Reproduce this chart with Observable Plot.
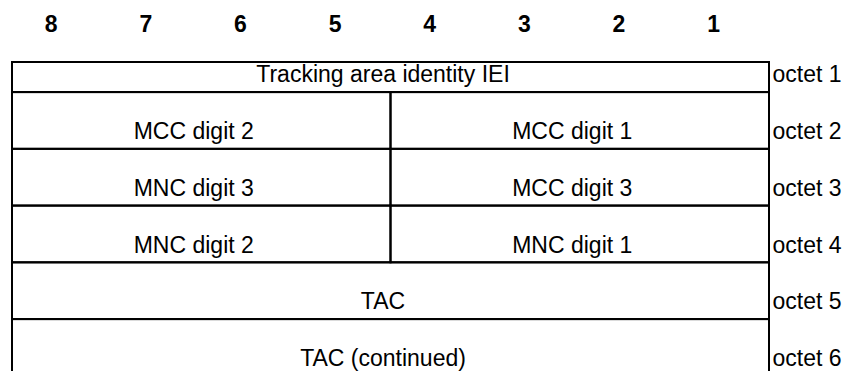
<!DOCTYPE html>
<html>
<head>
<meta charset="utf-8">
<script src="https://cdn.jsdelivr.net/npm/d3@7"></script>
<script src="https://cdn.jsdelivr.net/npm/@observablehq/plot@0.6"></script>
<style>
  html, body { margin: 0; padding: 0; background: white; overflow: hidden; }
</style>
</head>
<body>
<div id="chart"></div>
<script>
// ---- data ----
const bitLabels = ["8", "7", "6", "5", "4", "3", "2", "1"];
const octetLabels = ["octet 1", "octet 2", "octet 3", "octet 4", "octet 5", "octet 6"];
const fieldNames = [
  "Tracking area identity IEI",
  "MCC digit 2", "MCC digit 1",
  "MNC digit 3", "MCC digit 3",
  "MNC digit 2", "MNC digit 1",
  "TAC",
  "TAC (continued)"
];
const fieldOctet = [1, 2, 2, 3, 3, 4, 4, 5, 6];
const fieldHighBit = [8, 8, 4, 8, 4, 8, 4, 8, 8];
const fieldLowBit = [1, 5, 1, 5, 1, 5, 1, 1, 1];

// ---- layout ----
const W = 847, H = 371;
const rowPx = 56.75;         // pixel height of one octet row
const tableTop = 62;         // pixel top of the table
const headerRatio = 0.53;    // first octet row is shorter
const octetTop = k => (k === 1 ? 0 : headerRatio + (k - 2));
const octetBottom = k => (k === 1 ? headerRatio : headerRatio + (k - 1));
const textLift = 17.6 / rowPx;

const fields = fieldNames.map((name, i) => ({
  name,
  x1: 8 - fieldHighBit[i],
  x2: 9 - fieldLowBit[i],
  y1: octetTop(fieldOctet[i]),
  y2: octetBottom(fieldOctet[i])
}));
const bits = bitLabels.map((b, i) => ({ label: b, x: i + 0.5 }));
const octets = octetLabels.map((o, i) => ({ label: o, y: octetBottom(i + 1) - textLift }));

const font = "'Liberation Sans', Arial, Helvetica, sans-serif";

const chart = Plot.plot({
  width: W,
  height: H,
  marginLeft: 12,
  marginRight: 78,
  marginTop: 0,
  marginBottom: 0,
  style: { fontFamily: font, background: "white", color: "black" },
  x: { domain: [0, 8], axis: null },
  y: { domain: [-tableTop / rowPx, (H - tableTop) / rowPx], range: [0, H], axis: null },
  marks: [
    Plot.rect(fields, {
      x1: "x1", x2: "x2", y1: "y1", y2: "y2",
      fill: "none", stroke: "black", strokeWidth: 2
    }),
    Plot.text(fields, {
      x: d => (d.x1 + d.x2) / 2,
      y: d => d.y2 - textLift,
      text: "name",
      dx: -8,
      fontSize: 23,
      fill: "black",
      lineAnchor: "middle",
      textAnchor: "middle"
    }),
    Plot.text(bits, {
      x: "x",
      y: () => -0.664,
      text: "label",
      dx: -8.6,
      fontSize: 23,
      fontWeight: "bold",
      fill: "black",
      lineAnchor: "middle",
      textAnchor: "middle"
    }),
    Plot.text(octets, {
      x: () => 8,
      y: "y",
      text: "label",
      dx: 3,
      fontSize: 23,
      fill: "black",
      lineAnchor: "middle",
      textAnchor: "start"
    })
  ]
});

document.getElementById("chart").appendChild(chart);
</script>
</body>
</html>
